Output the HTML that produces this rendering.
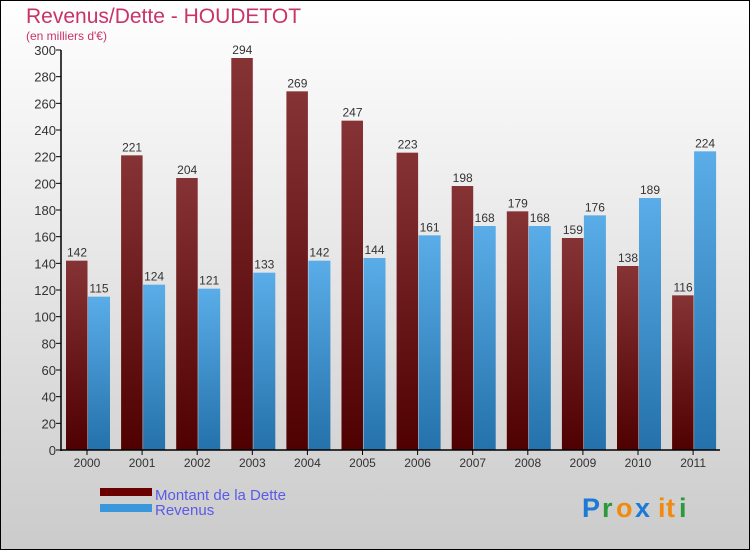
<!DOCTYPE html>
<html><head><meta charset="utf-8"><style>
body{margin:0}
#c{width:750px;height:550px;position:relative;overflow:hidden}
svg{font-family:"Liberation Sans",sans-serif}
</style></head><body>
<div id="c">
<svg id="s" width="750" height="550" xmlns="http://www.w3.org/2000/svg">
<defs>
<linearGradient id="bg" x1="0" y1="0" x2="0" y2="1"><stop offset="0" stop-color="#ffffff"/><stop offset="1" stop-color="#cbcbcb"/></linearGradient>
<linearGradient id="gd" x1="0" y1="0" x2="0" y2="1"><stop offset="0" stop-color="#863335"/><stop offset="1" stop-color="#4f0000"/></linearGradient>
<linearGradient id="gr" x1="0" y1="0" x2="0" y2="1"><stop offset="0" stop-color="#5aade8"/><stop offset="1" stop-color="#2471ab"/></linearGradient>
</defs>
<rect x="0.5" y="0.5" width="749" height="549" fill="url(#bg)" stroke="#000"/>
<text x="26" y="23" font-size="21" fill="#c8336a">Revenus/Dette - HOUDETOT</text>
<text x="26" y="40" font-size="12" fill="#c8336a">(en milliers d'€)</text>
<g id="plot"></g>
<rect x="100" y="488" width="52" height="8" fill="#6b0000"/>
<text x="155" y="500" font-size="15" fill="#5a5ae8">Montant de la Dette</text>
<rect x="100" y="504" width="52" height="8" fill="#3a97dc"/>
<text x="155" y="515" font-size="15" fill="#5a5ae8">Revenus</text>
<g font-size="27" font-weight="bold">
<text x="582" y="517" fill="#1a7ad6">P</text><text x="602" y="517" fill="#2a9a3a">r</text><text x="616" y="517" fill="#f08a10">o</text><text x="635" y="517" fill="#1a7ad6">x</text><text x="658" y="517" fill="#f08a10">i</text><text x="666" y="517" fill="#f08a10">t</text><text x="679" y="517" fill="#2a9a3a">i</text>
</g>
</svg>
</div>
<script>
const years=["2000","2001","2002","2003","2004","2005","2006","2007","2008","2009","2010","2011"];
const dette=[142,221,204,294,269,247,223,198,179,159,138,116];
const revenus=[115,124,121,133,142,144,161,168,168,176,189,224];
const yTicks=[0,20,40,60,80,100,120,140,160,180,200,220,240,260,280,300];
const NS="http://www.w3.org/2000/svg";
const g=document.getElementById('plot');
const y0=450,y1=50,vmax=300,xL=61,xR=720,x0=87,step=55.1;
const Y=v=>y0-(v/vmax)*(y0-y1);
const X=i=>x0+i*step;
function el(t,a){const e=document.createElementNS(NS,t);for(const k in a)e.setAttribute(k,a[k]);g.appendChild(e);return e;}
yTicks.forEach(v=>{
 const l=el('line',{x1:xL-5,x2:xL,y1:Y(v),y2:Y(v),stroke:'#000'});
 
 
 const t=el('text',{x:xL-5,y:Y(v)+5,'text-anchor':'end','font-size':13,fill:'#333'});
 t.textContent=v;
 
 
});
years.forEach((yr,i)=>{
 const c=X(i);
 const bd=el('rect',{x:c-21,y:Y(dette[i]),width:21.5,height:y0-Y(dette[i]),fill:'url(#gd)'});
 
 
 const br=el('rect',{x:c+1,y:Y(revenus[i]),width:22,height:y0-Y(revenus[i]),fill:'url(#gr)'});
 
 
 const td=el('text',{x:c-10,y:Y(dette[i])-4,'text-anchor':'middle','font-size':12,fill:'#333'});
 td.textContent=dette[i];
 
 
 const tr=el('text',{x:c+12,y:Y(revenus[i])-4,'text-anchor':'middle','font-size':12,fill:'#333'});
 tr.textContent=revenus[i];
 
 
 const tk=el('line',{x1:c,x2:c,y1:y0,y2:y0+5,stroke:'#000'});
 
 
 const tl=el('text',{x:c,y:y0+17,'text-anchor':'middle','font-size':12,fill:'#333'});
 tl.textContent=yr;
 
 
});
const ax=el('line',{x1:xL,x2:xL,y1:y1,y2:y0+1,stroke:'#000','stroke-width':1.5});


const bx=el('line',{x1:xL,x2:xR,y1:y0,y2:y0,stroke:'#000','stroke-width':1.5});


</script>
</body></html>
